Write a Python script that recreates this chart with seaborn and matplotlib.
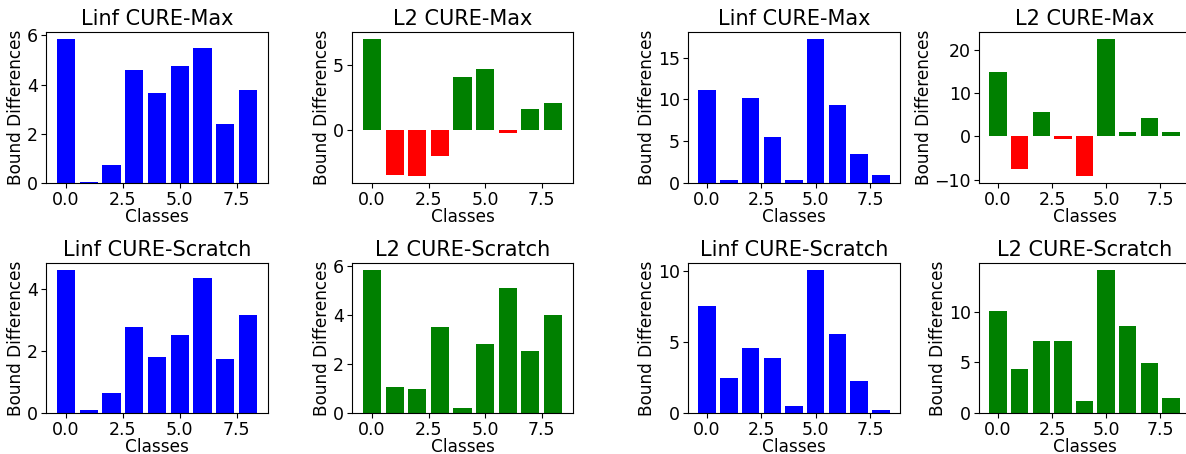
import numpy as np
import pandas as pd
import matplotlib
matplotlib.use("Agg")
import matplotlib.pyplot as plt
import seaborn as sns

classes = [0, 1, 2, 3, 4, 5, 6, 7, 8]

titles = ["Linf CURE-Max", "L2 CURE-Max", "Linf CURE-Max", "L2 CURE-Max",
          "Linf CURE-Scratch", "L2 CURE-Scratch", "Linf CURE-Scratch", "L2 CURE-Scratch"]

linf_max_a = [5.84, 0.03, 0.73, 4.58, 3.64, 4.74, 5.47, 2.38, 3.77]
l2_max_a = [6.97, -3.46, -3.54, -2.00, 4.05, 4.67, -0.23, 1.59, 2.05]
linf_max_b = [11.17, 0.32, 10.13, 5.46, 0.32, 17.19, 9.29, 3.43, 0.92]
l2_max_b = [14.9, -7.57, 5.64, -0.54, -9.19, 22.55, 1.0, 4.25, 1.0]
linf_scr_a = [4.60, 0.11, 0.66, 2.77, 1.81, 2.51, 4.34, 1.74, 3.16]
l2_scr_a = [5.85, 1.07, 0.99, 3.52, 0.22, 2.83, 5.12, 2.54, 4.01]
linf_scr_b = [7.52, 2.48, 4.58, 3.88, 0.51, 10.05, 5.56, 2.27, 0.23]
l2_scr_b = [10.1, 4.38, 7.14, 7.14, 1.22, 14.14, 8.62, 4.97, 1.51]

series = [linf_max_a, l2_max_a, linf_max_b, l2_max_b,
          linf_scr_a, l2_scr_a, linf_scr_b, l2_scr_b]
kinds = ["linf", "l2", "linf", "l2", "linf", "l2", "linf", "l2"]

xticks = [0.0, 2.5, 5.0, 7.5]

W, H = 1186, 454
fig = plt.figure(figsize=(W / 100, H / 100), dpi=100)

col_px = [(46, 268), (352, 573), (688, 900), (979, 1190)]
row_px = [(32, 183), (263, 413)]

for i, (vals, kind, title) in enumerate(zip(series, kinds, titles)):
    r, c = divmod(i, 4)
    x0, x1 = col_px[c]
    yt, yb = row_px[r]
    ax = fig.add_axes([x0 / W, 1 - yb / H, (x1 - x0) / W, (yb - yt) / H])
    df = pd.DataFrame({"cls": classes, "val": vals})
    if kind == "linf":
        df["sign"] = "pos"
        pal = {"pos": "blue"}
    else:
        df["sign"] = np.where(df["val"] >= 0, "pos", "neg")
        pal = {"pos": "green", "neg": "red"}
    sns.barplot(data=df, x="cls", y="val", hue="sign", palette=pal,
                native_scale=True, dodge=False, errorbar=None, legend=False,
                width=0.8, saturation=1, ax=ax)
    ax.set_xticks(xticks)
    ax.set_title(title, fontsize=15, pad=5)
    ax.set_xlabel("Classes", fontsize=12.2, labelpad=-1)
    ax.set_ylabel("Bound Differences", fontsize=12.2, labelpad=1)
    ax.tick_params(labelsize=12.5, pad=2.5)
    ax.autoscale(enable=True, axis="y")
    ax.set_xlim(-0.88, 8.88)

fig.savefig("out.png", dpi=100)
